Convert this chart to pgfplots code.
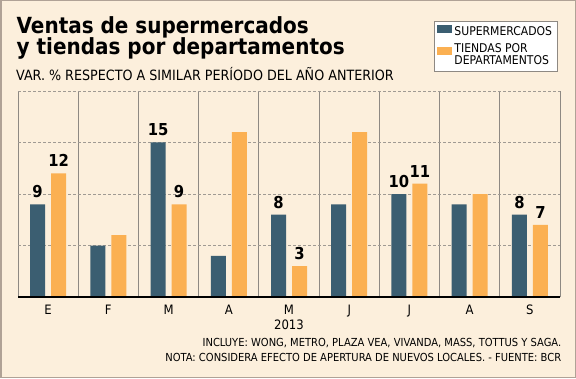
\documentclass[border=0pt]{standalone}
\usepackage{pgfplots}
\pgfplotsset{compat=1.18}
\usepackage{fontspec}
\setmainfont{DejaVu Sans Condensed}
\definecolor{bg}{HTML}{FCEFDC}
\definecolor{frame}{HTML}{B0A296}
\definecolor{barblue}{HTML}{3B5E71}
\definecolor{barorange}{HTML}{FBB052}
\definecolor{gridc}{HTML}{A09A93}
\definecolor{sepc}{HTML}{8E8983}
\definecolor{legb}{HTML}{8E8983}
\begin{document}
\begin{tikzpicture}[x=1bp,y=1bp]
\fill[bg] (0,0) rectangle (576,378);
\draw[frame, line width=1.5bp] (0.75,0.75) rectangle (575.25,377.25);
\node[anchor=base west, inner sep=0, font=\bfseries\fontsize{22.3}{21}\selectfont] at (16.5,345) {Ventas de supermercados};
\node[anchor=base west, inner sep=0, font=\bfseries\fontsize{22.3}{21}\selectfont] at (16.5,324) {y tiendas por departamentos};
\node[anchor=base west, inner sep=0, font=\fontsize{14.2}{15}\selectfont] at (16,298) {VAR. \% RESPECTO A SIMILAR PERÍODO DEL AÑO ANTERIOR};
\begin{axis}[
  at={(18bp,81bp)}, anchor=south west,
  width=542bp, height=206bp, scale only axis,
  xmin=-0.5, xmax=8.5, ymin=0, ymax=20,
  clip=false,
  axis line style={draw=none},
  xtick={0,...,8},
  xticklabels={E,F,M,A,M,J,J,A,S},
  minor xtick={-0.5,0.5,...,8.5},
  xminorgrids,
  minor x grid style={sepc, line width=0.9bp},
  ytick={5,10,15,20},
  yticklabels={},
  ymajorgrids,
  major y grid style={gridc, line width=0.8bp, dash pattern=on 3bp off 2bp},
  major tick length=0pt, minor tick length=0pt,
  xticklabel style={anchor=base, yshift=-17bp, font=\fontsize{13}{15}\selectfont},
  point meta=explicit symbolic,
  nodes near coords,
  every node near coord/.append style={anchor=base, inner sep=0pt, yshift=6.5bp, font=\bfseries\fontsize{16.5}{18}\selectfont, black},
  legend style={at={(0.995,1.338)}, anchor=north east, draw=legb, fill=white,
    font=\fontsize{12.1}{12.5}\selectfont, inner xsep=3bp, inner ysep=3bp,
    row sep=2bp, nodes={align=left}},
  legend cell align=left,
  legend image code/.code={\fill[#1] (0bp,-0.5bp) rectangle (15bp,7.5bp);},
]
\addplot[ybar, bar width=15bp, bar shift=-10.5bp, fill=barblue, draw=none,
  every node near coord/.append style={xshift=-10.5bp}] coordinates {
 (0,9) [9] (1,5) [] (2,15) [15] (3,4) [] (4,8) [8] (5,9) [] (6,10) [10] (7,9) [] (8,8) [8]
};
\addlegendentry{SUPERMERCADOS}
\addplot[ybar, bar width=15bp, bar shift=10.5bp, fill=barorange, draw=none,
  every node near coord/.append style={xshift=10.5bp}] coordinates {
 (0,12) [12] (1,6) [] (2,9) [9] (3,16) [] (4,3) [3] (5,16) [] (6,11) [11] (7,10) [] (8,7) [7]
};
\addlegendentry{TIENDAS POR\\DEPARTAMENTOS}
\draw[black, line width=1.4bp] (axis cs:-0.5,0) -- (axis cs:8.5,0);
\node[anchor=base, inner sep=0, font=\fontsize{13}{15}\selectfont] at (axis cs:4,0) [yshift=-32bp] {2013};
\end{axis}
\node[anchor=base east, inner sep=0, font=\fontsize{11.1}{13}\selectfont] at (561.5,31.3) {INCLUYE: WONG, METRO, PLAZA VEA, VIVANDA, MASS, TOTTUS Y SAGA.};
\node[anchor=base east, inner sep=0, font=\fontsize{11.1}{13}\selectfont] at (561.5,17) {NOTA: CONSIDERA EFECTO DE APERTURA DE NUEVOS LOCALES. - FUENTE: BCR};
\end{tikzpicture}
\end{document}
